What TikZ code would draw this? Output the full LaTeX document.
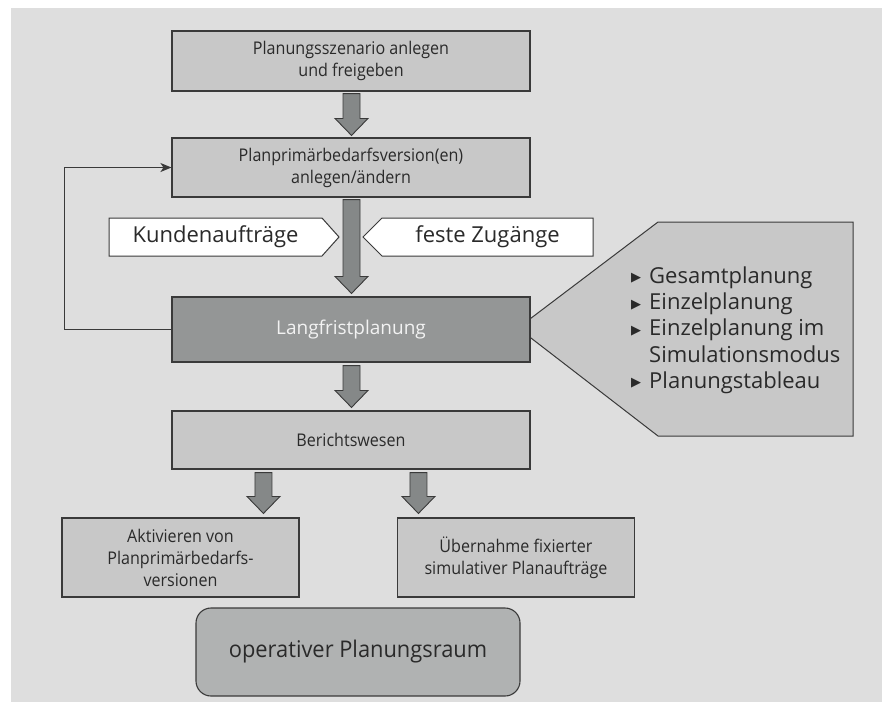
\documentclass[tikz,border=0pt]{standalone}
\usepackage{fontspec}
\setmainfont{Open Sans}
\newfontfamily\condfont[FakeStretch=0.92]{Open Sans}
\newfontfamily\widefont[FakeStretch=0.95]{Open Sans}
\newfontfamily\symfont{DejaVu Sans}
\usetikzlibrary{calc,arrows.meta}

\definecolor{bggray}{HTML}{DEDEDE}
\definecolor{boxlight}{HTML}{C8C8C8}
\definecolor{boxdark}{HTML}{949696}
\definecolor{boxmid}{HTML}{B0B2B2}
\definecolor{arrowfill}{HTML}{858888}
\definecolor{edge}{HTML}{3A3A3A}
\definecolor{txt}{HTML}{2A2A2A}

% block arrow from a start point down to the height of a tip point
\newcommand\blockarrow[2]{%
  \draw[blockarr] let \p1=#1, \p2=#2 in
    (\x1-8.5pt,\y1) -- (\x1+8.5pt,\y1) -- (\x1+8.5pt,\y2+17pt) -- (\x1+16.5pt,\y2+17pt)
    -- (\x1,\y2) -- (\x1-16.5pt,\y2+17pt) -- (\x1-8.5pt,\y2+17pt) -- cycle;}

% list bullet
\newcommand\listbullet{\raisebox{1.5pt}{\symfont\fontsize{13}{13}\selectfont ▶}}

\tikzset{
  stepbox/.style={draw=edge, line width=1.1pt, fill=boxlight, inner sep=0pt,
    minimum width=358pt, align=center, text=txt,
    font=\condfont\fontsize{17.5}{22}\selectfont},
  smallbox/.style={stepbox, minimum width=237pt, minimum height=79pt},
  blockarr/.style={fill=arrowfill, draw=edge, line width=0.9pt, line join=miter},
  inputshape/.style={fill=white, draw=edge, line width=1pt},
  bigtext/.style={inner sep=0pt, text=txt, font=\fontsize{22}{26.3}\selectfont},
  fbline/.style={draw=edge, line width=1.2pt,
    -{Stealth[length=11pt,width=9pt,inset=3pt]}},
}

\begin{document}
\begin{tikzpicture}[x=1pt,y=-1pt]
\useasboundingbox (0,0) rectangle (882,702);
\fill[bggray] (11,8) rectangle (882,702);

% method list callout (drawn behind the planning box)
\filldraw[fill=boxlight, draw=edge, line width=1pt]
  (518,328) -- (658,222) -- (853,222) -- (853,436) -- (658,436) -- cycle;
\node[bigtext, anchor=west, align=left] (methods) at (631,330.6) {%
  \begin{tabular}{@{}l@{\hspace{8pt}}l@{}}
  \listbullet & Gesamtplanung\\
  \listbullet & Einzelplanung\\
  \listbullet & Einzelplanung im\\
  & Simulationsmodus\\
  \listbullet & Planungstableau
  \end{tabular}};

% main chain
\node[stepbox, minimum height=60pt] (szenario) at (351,61)
  {Planungsszenario anlegen\\und freigeben};
\node[stepbox, minimum height=59pt] (version) at (351,167.5)
  {Planprimärbedarfsversion(en)\\anlegen/ändern};
\node[stepbox, minimum height=65pt, fill=boxdark, text=white!95!black,
  font=\fontsize{19}{22}\selectfont] (langfrist) at (351,329.5)
  {Langfristplanung};
\node[stepbox, minimum height=58pt] (bericht) at (351,440)
  {Berichtswesen};
\node[smallbox] (aktiv) at (180.5,557.5)
  {Aktivieren von\\Planprimärbedarfs-\\versionen};
\node[smallbox] (uebernahme) at (516,557.5)
  {Übernahme fixierter\\simulativer Planaufträge};
\node[draw=edge, line width=1.1pt, fill=boxmid, rounded corners=15pt,
  minimum width=324pt, minimum height=88pt, inner sep=0pt, text=txt,
  font=\widefont\fontsize{23}{28}\selectfont] (operativ) at (358,652)
  {operativer Planungsraum};

% incoming data
\filldraw[inputshape] (109,218) -- (322,218) -- (339,237) -- (322,256) -- (109,256) -- cycle;
\filldraw[inputshape] (363,237) -- (382,218) -- (593,218) -- (593,256) -- (382,256) -- cycle;
\node[bigtext] (kunden) at (215.5,237) {Kundenaufträge};
\node[bigtext] (feste) at (487.5,237) {feste Zugänge};

% flow arrows
\blockarrow{($(szenario.south)+(0.5,2)$)}{($(version.north)+(0,-2)$)}
\blockarrow{($(version.south)+(0.5,2)$)}{($(langfrist.north)+(0,-3)$)}
\blockarrow{($(langfrist.south)+(0.5,3)$)}{($(bericht.north)+(0,-3)$)}
\blockarrow{($(bericht.south west)+(92,3)$)}{($(aktiv.north)+(0,-4)$)}
\blockarrow{($(bericht.south west)+(247,3)$)}{($(uebernahme.north)+(0,-4)$)}

% feedback loop
\draw[fbline] (langfrist.west) -- ++(-107,0) |- (version.west);
\end{tikzpicture}
\end{document}
